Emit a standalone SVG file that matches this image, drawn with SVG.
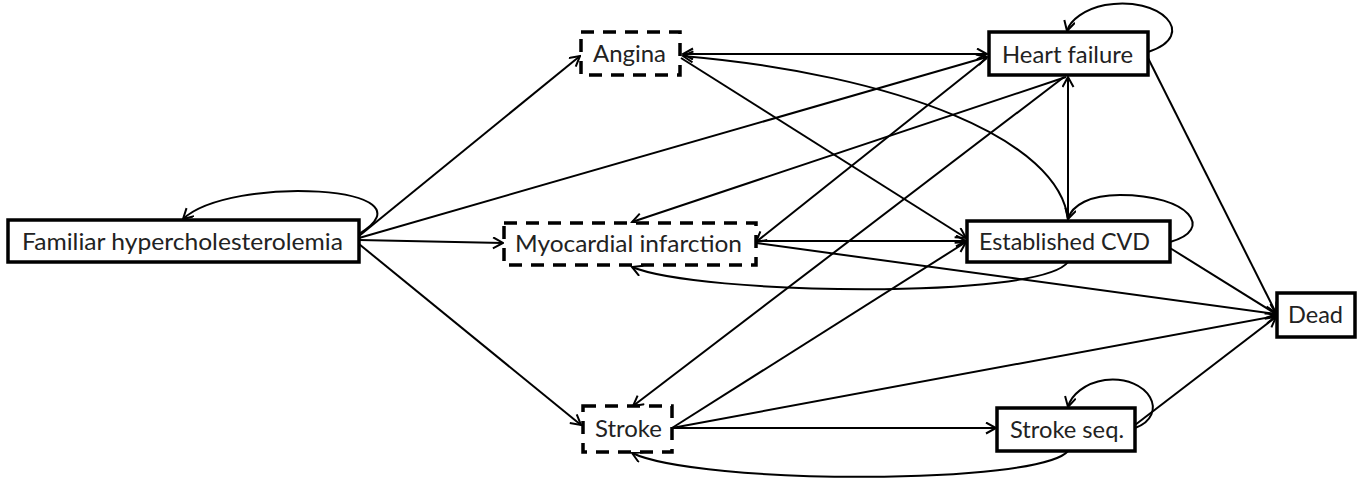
<svg xmlns="http://www.w3.org/2000/svg" width="1365" height="481" viewBox="0 0 1365 481">
<defs>
<marker id="arr" markerUnits="userSpaceOnUse" markerWidth="16" markerHeight="16" refX="11" refY="6" orient="auto">
<path d="M1,0.5 L11,6 L1,11.5" fill="none" stroke="#000" stroke-width="2"/>
</marker>
<style>
.e{fill:none;stroke:#000;stroke-width:2}
.a{marker-end:url(#arr)}
.n{fill:#fff;stroke:#000;stroke-width:3.5}
.d{fill:#fff;stroke:#000;stroke-width:3.5;stroke-dasharray:13,9}
text{font-family:Lato,"Open Sans",sans-serif;font-size:23px;fill:#222}
</style>
</defs>
<rect width="1365" height="481" fill="#fff"/>
<g id="connectors">
<path class="e a" d="M359,236 L580,56"/>
<path class="e a" d="M359,238 L987,57"/>
<path class="e a" d="M359,240 L503,243"/>
<path class="e a" d="M359,244 L581,425"/>
<path class="e a" d="M359,234 C440,185 230,175 183,219"/>
<path class="e a" d="M683,54 L987,54"/>
<path class="e a" d="M987,54 L683,54"/>
<path class="e a" d="M681,58 L966,238"/>
<path class="e a" d="M1068,220 C1060,140 900,75 683,56"/>
<path class="e a" d="M1066,77 L632,222"/>
<path class="e a" d="M987,58 L756,242"/>
<path class="e a" d="M1064,77 L633,406"/>
<path class="e a" d="M1148,52 C1200,35 1160,-5 1105,5 C1085,9 1070,20 1067,31"/>
<path class="e a" d="M1068,220 L1068,77"/>
<path class="e a" d="M756,241 L966,241"/>
<path class="e a" d="M756,243 L1276,314"/>
<path class="e a" d="M1068,262 C1040,300 700,295 632,267"/>
<path class="e a" d="M1170,242 C1215,230 1190,195 1120,195 C1090,195 1072,205 1068,219"/>
<path class="e a" d="M1170,248 L1276,314"/>
<path class="e a" d="M1148,58 L1276,313"/>
<path class="e a" d="M672,428 L996,428"/>
<path class="e a" d="M672,428 L1276,316"/>
<path class="e a" d="M672,428 L966,242"/>
<path class="e a" d="M1135,425 L1276,317"/>
<path class="e a" d="M1135,428 C1170,415 1150,375 1105,380 C1085,383 1071,395 1068,407"/>
<path class="e a" d="M1068,451 C1040,485 700,485 632,453"/>
</g>
<g id="fh"><rect class="n" x="8" y="220" width="351" height="42"/><text x="22" y="250" textLength="321" lengthAdjust="spacingAndGlyphs">Familiar hypercholesterolemia</text></g>
<g id="angina"><rect class="d" x="581" y="32" width="99" height="43"/><text x="593" y="62" textLength="73" lengthAdjust="spacingAndGlyphs">Angina</text></g>
<g id="mi"><rect class="d" x="504" y="223" width="252" height="42"/><text x="515" y="252" textLength="227" lengthAdjust="spacingAndGlyphs">Myocardial infarction</text></g>
<g id="stroke"><rect class="d" x="583" y="406" width="89" height="46"/><text x="595" y="437" textLength="67" lengthAdjust="spacingAndGlyphs">Stroke</text></g>
<g id="hf"><rect class="n" x="989" y="32" width="159" height="43"/><text x="1002" y="63" textLength="131" lengthAdjust="spacingAndGlyphs">Heart failure</text></g>
<g id="cvd"><rect class="n" x="967" y="221" width="203" height="41"/><text x="979" y="250" textLength="171" lengthAdjust="spacingAndGlyphs">Established CVD</text></g>
<g id="dead"><rect class="n" x="1277" y="293" width="78" height="44"/><text x="1288" y="323" textLength="55" lengthAdjust="spacingAndGlyphs">Dead</text></g>
<g id="strokeseq"><rect class="n" x="997" y="408" width="138" height="43"/><text x="1010" y="438" textLength="114" lengthAdjust="spacingAndGlyphs">Stroke seq.</text></g>
</svg>
